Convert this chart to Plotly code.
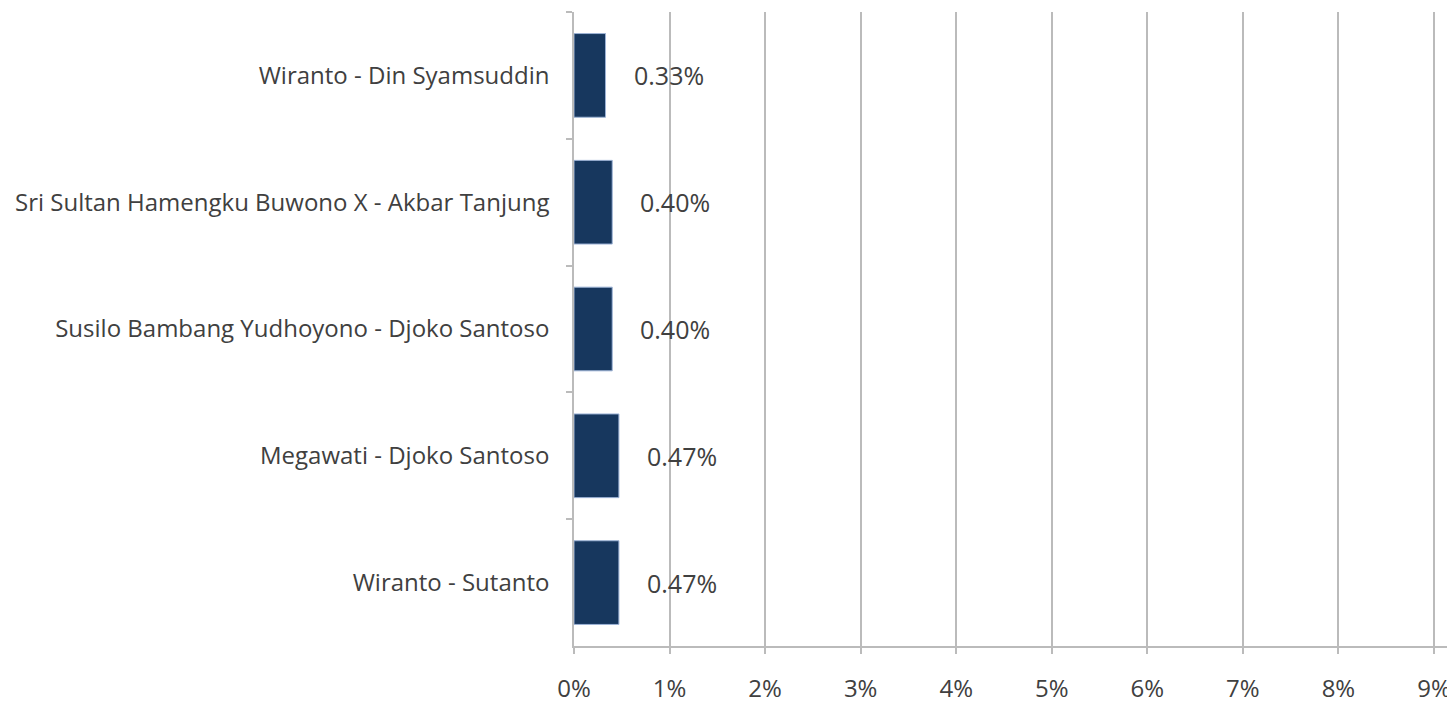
import plotly.graph_objects as go

categories = [
    "Wiranto - Din Syamsuddin",
    "Sri Sultan Hamengku Buwono X - Akbar Tanjung",
    "Susilo Bambang Yudhoyono - Djoko Santoso",
    "Megawati - Djoko Santoso",
    "Wiranto - Sutanto",
]
values = [0.0033, 0.0040, 0.0040, 0.0047, 0.0047]
value_labels = ["0.33%", "0.40%", "0.40%", "0.47%", "0.47%"]
tick_vals = [0, 0.01, 0.02, 0.03, 0.04, 0.05, 0.06, 0.07, 0.08, 0.09]
tick_text = ["0%", "1%", "2%", "3%", "4%", "5%", "6%", "7%", "8%", "9%"]

font_family = "'Open Sans', Lato, sans-serif"
text_color = "#404040"
fsize = 24

fig = go.Figure()
fig.add_trace(go.Bar(
    y=categories,
    x=values,
    orientation="h",
    width=0.66,
    marker=dict(color="#17375E", line=dict(color="#9DB3D6", width=1)),
    hoverinfo="skip",
))

for c, v, t in zip(categories, values, value_labels):
    fig.add_annotation(
        x=v, y=c, text=t, showarrow=False, xanchor="left", xshift=26,
        font=dict(family=font_family, size=25, color=text_color),
    )

fig.update_layout(
    width=1447, height=698,
    margin=dict(l=566, r=0, t=4, b=60, autoexpand=False),
    plot_bgcolor="white", paper_bgcolor="white",
    showlegend=False,
    font=dict(family=font_family, size=fsize, color=text_color),
)
fig.update_xaxes(
    range=[0, 0.0922],
    tickvals=tick_vals, ticktext=tick_text,
    showgrid=True, gridcolor="#BBBBBB", gridwidth=1.5,
    showline=True, linecolor="#BBBBBB", linewidth=1.5,
    ticks="outside", ticklen=6, tickcolor="#BBBBBB", tickwidth=1.5,
    ticklabelstandoff=14,
    zeroline=False, automargin=False,
    tickfont=dict(family=font_family, size=fsize, color=text_color),
)
fig.update_yaxes(
    categoryorder="array", categoryarray=categories,
    autorange="reversed",
    showline=True, linecolor="#BBBBBB", linewidth=1.5,
    ticks="outside", ticklen=6, tickcolor="#BBBBBB", tickwidth=1.5,
    tickson="boundaries",
    ticklabelstandoff=18,
    showgrid=False, automargin=False,
    tickfont=dict(family=font_family, size=fsize, color=text_color),
)

fig.write_html("out.html")
